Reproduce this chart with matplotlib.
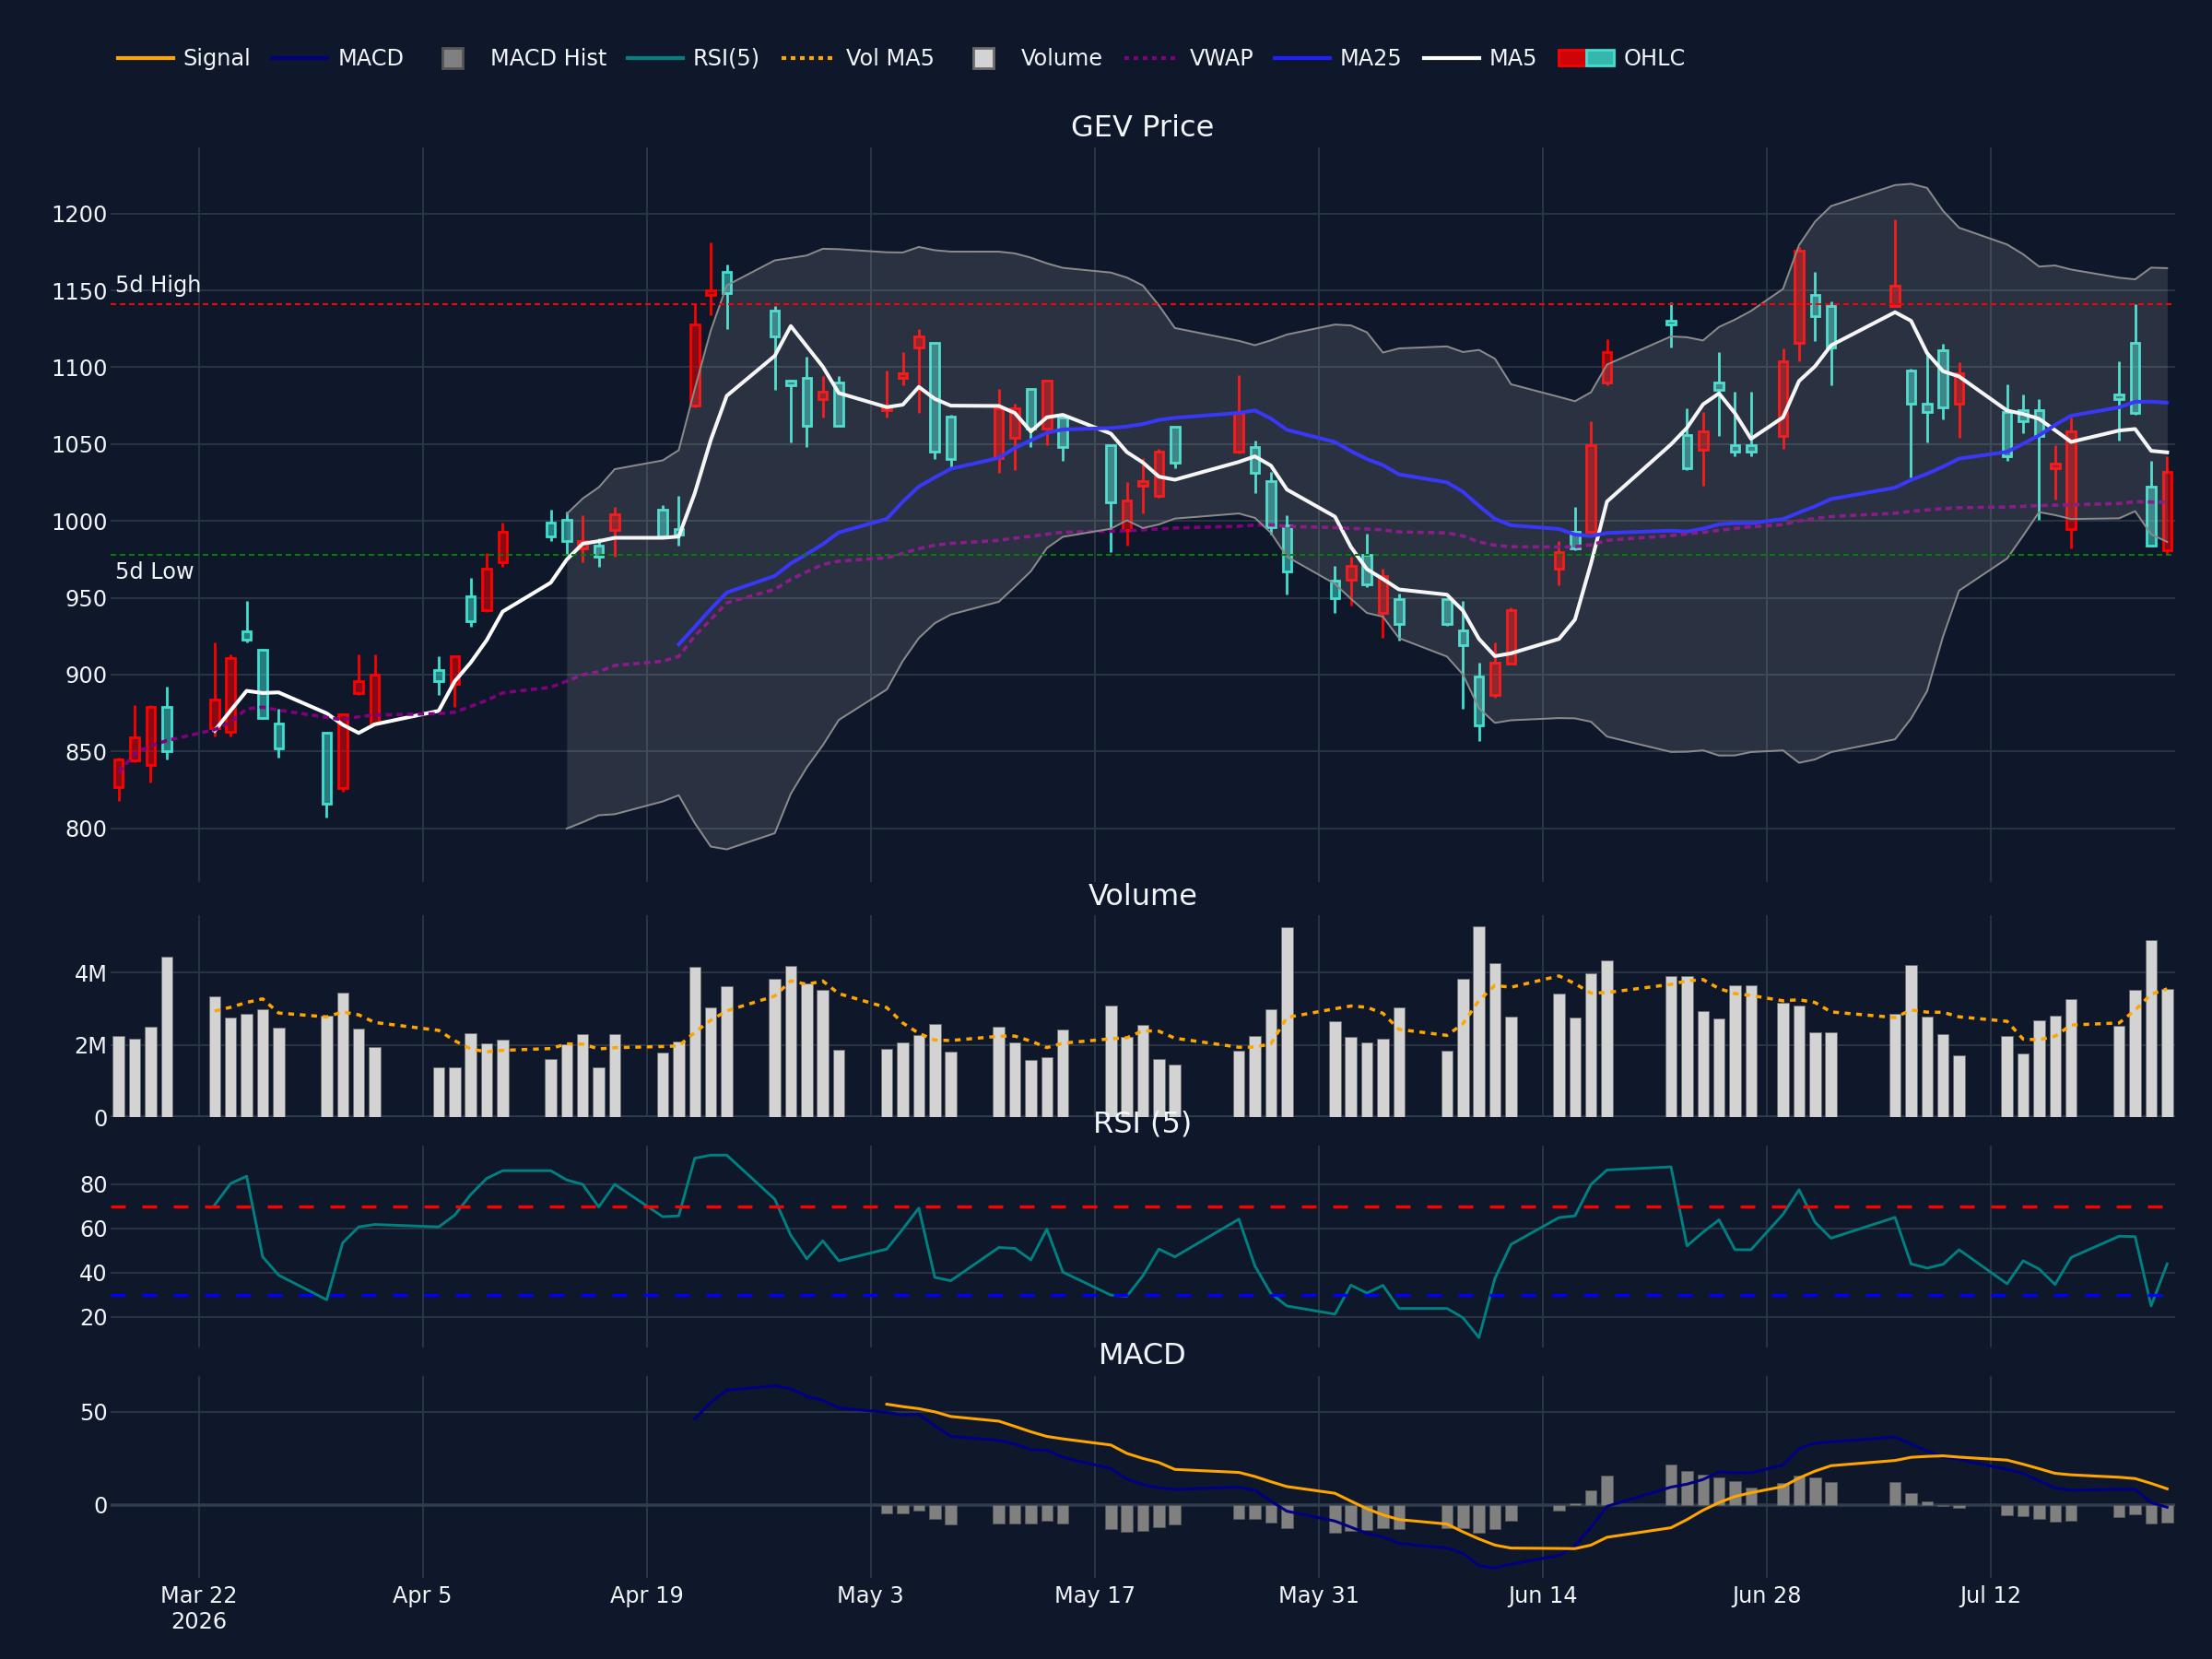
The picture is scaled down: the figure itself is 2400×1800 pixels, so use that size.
import matplotlib
matplotlib.use("Agg")
import matplotlib.pyplot as plt
import matplotlib.dates as mdates
from matplotlib.patches import Rectangle, Patch
from matplotlib.lines import Line2D
from matplotlib.legend_handler import HandlerTuple
from matplotlib.colors import to_rgba
import pandas as pd

# trading days (2026)
days = ["03-17", "03-18", "03-19", "03-20",
        "03-23", "03-24", "03-25", "03-26", "03-27",
        "03-30", "03-31", "04-01", "04-02",
        "04-06", "04-07", "04-08", "04-09", "04-10",
        "04-13", "04-14", "04-15", "04-16", "04-17",
        "04-20", "04-21", "04-22", "04-23", "04-24",
        "04-27", "04-28", "04-29", "04-30", "05-01",
        "05-04", "05-05", "05-06", "05-07", "05-08",
        "05-11", "05-12", "05-13", "05-14", "05-15",
        "05-18", "05-19", "05-20", "05-21", "05-22",
        "05-26", "05-27", "05-28", "05-29",
        "06-01", "06-02", "06-03", "06-04", "06-05",
        "06-08", "06-09", "06-10", "06-11", "06-12",
        "06-15", "06-16", "06-17", "06-18",
        "06-22", "06-23", "06-24", "06-25", "06-26", "06-27",
        "06-29", "06-30", "07-01", "07-02",
        "07-06", "07-07", "07-08", "07-09", "07-10",
        "07-13", "07-14", "07-15", "07-16", "07-17",
        "07-20", "07-21", "07-22", "07-23"]

opens = [827, 844, 841, 879,
         865, 863, 928, 916, 868,
         862, 826, 888, 868,
         903, 894, 951, 942, 973,
         999, 1001, 982, 984, 994,
         1007, 995, 1075, 1147, 1162,
         1137, 1091, 1093, 1079, 1090,
         1072, 1093, 1113, 1116, 1068,
         1041, 1054, 1086, 1060, 1067,
         1049, 994, 1023, 1016, 1061,
         1045, 1048, 1026, 997,
         961, 962, 978, 940, 949,
         949, 929, 899, 887, 907,
         969, 993, 993, 1090,
         1130, 1056, 1046, 1090, 1049, 1049,
         1055, 1116, 1147, 1140,
         1140, 1098, 1076, 1111, 1076,
         1071, 1072, 1072, 1034, 995,
         1082, 1116, 1022, 981]

highs = [846, 880, 880, 892,
         921, 913, 948, 917, 878,
         863, 875, 913, 913,
         912, 912, 963, 979, 999,
         1007, 1006, 1004, 989, 1009,
         1010, 1016, 1141, 1181, 1167,
         1140, 1092, 1107, 1094, 1094,
         1098, 1110, 1125, 1116, 1069,
         1086, 1076, 1086, 1091, 1067,
         1049, 1025, 1041, 1047, 1061,
         1095, 1052, 1032, 1004,
         971, 977, 992, 969, 953,
         950, 948, 908, 921, 944,
         987, 1009, 1065, 1118,
         1142, 1073, 1071, 1110, 1084, 1084,
         1112, 1178, 1162, 1143,
         1196, 1099, 1110, 1115, 1103,
         1089, 1082, 1079, 1049, 1067,
         1104, 1141, 1039, 1042]

lows = [818, 843, 830, 845,
        860, 860, 921, 871, 846,
        807, 824, 887, 867,
        887, 879, 931, 941, 970,
        987, 978, 973, 970, 977,
        989, 984, 1074, 1134, 1125,
        1085, 1051, 1048, 1067, 1062,
        1067, 1088, 1070, 1040, 1035,
        1031, 1033, 1048, 1049, 1039,
        980, 984, 1005, 1015, 1034,
        1044, 1018, 991, 952,
        940, 945, 957, 924, 922,
        932, 878, 857, 885, 907,
        958, 981, 992, 1088,
        1113, 1033, 1023, 1055, 1042, 1042,
        1047, 1104, 1117, 1088,
        1139, 1028, 1051, 1066, 1054,
        1039, 1057, 1001, 1014, 982,
        1052, 1069, 984, 978]

closes = [845, 859, 879, 850,
          884, 911, 923, 872, 852,
          816, 874, 896, 900,
          896, 912, 935, 969, 993,
          990, 987, 987, 977, 1004,
          990, 991, 1128, 1150, 1148,
          1120, 1088, 1062, 1084, 1062,
          1074, 1096, 1120, 1045, 1040,
          1073, 1073, 1060, 1091, 1048,
          1012, 1013, 1026, 1045, 1038,
          1070, 1031, 996, 967,
          950, 971, 959, 964, 933,
          933, 919, 867, 908, 942,
          980, 982, 1049, 1110,
          1128, 1034, 1058, 1085, 1045, 1045,
          1104, 1176, 1133, 1113,
          1153, 1076, 1071, 1074, 1096,
          1042, 1065, 1055, 1037, 1058,
          1079, 1070, 984, 1032]

# volume in millions
volumes = [2.24, 2.18, 2.49, 4.43,
           3.34, 2.76, 2.85, 2.99, 2.47,
           2.80, 3.45, 2.45, 1.93,
           1.37, 1.37, 2.32, 2.04, 2.14,
           1.62, 2.01, 2.29, 1.38, 2.31,
           1.78, 2.09, 4.17, 3.05, 3.62,
           3.83, 4.19, 3.69, 3.51, 1.87,
           1.90, 2.06, 2.26, 2.57, 1.81,
           2.49, 2.08, 1.57, 1.67, 2.42,
           3.10, 2.22, 2.54, 1.61, 1.45,
           1.85, 2.24, 2.99, 5.26,
           2.66, 2.23, 2.06, 2.16, 3.03,
           1.83, 3.83, 5.29, 4.25, 2.77,
           3.41, 2.75, 3.98, 4.33,
           3.90, 3.90, 2.93, 2.73, 3.64, 3.64,
           3.16, 3.08, 2.34, 2.34,
           2.86, 4.21, 2.78, 2.31, 1.72,
           2.24, 1.75, 2.68, 2.81, 3.27,
           2.52, 3.52, 4.90, 3.54]

# RSI(5), starts on the 5th day
rsi_vals = [None] * 4 + [
    70.6, 80.3, 83.6, 47.2, 38.9,
    27.8, 53.5, 60.7, 61.8,
    60.7, 66.0, 75.3, 82.6, 86.1,
    86.1, 81.9, 79.9, 69.7, 79.9,
    65.3, 65.7, 91.7, 93.1, 93.1,
    73.2, 56.9, 46.3, 54.4, 45.4,
    50.7, 59.7, 69.2, 37.9, 36.4,
    51.4, 51.0, 45.8, 59.7, 40.3,
    29.9, 29.4, 38.6, 50.7, 47.2,
    64.2, 43.1, 30.6, 25.0,
    21.3, 34.4, 30.8, 34.3, 23.9,
    23.9, 19.7, 10.7, 37.5, 52.8,
    64.9, 65.7, 79.9, 86.4,
    87.8, 52.1, 58.3, 63.9, 50.4, 50.4,
    66.4, 77.5, 62.8, 55.6,
    65.0, 44.0, 42.1, 43.8, 50.4,
    35.0, 45.4, 41.7, 34.7, 46.9,
    56.5, 56.3, 25.0, 44.0]

macd_vals = [None] * 25 + [
    46.2, 55.0, 61.6,
    64.0, 62.4, 58.3, 56.1, 52.1,
    49.7, 48.3, 48.7, 42.6, 36.8,
    34.7, 32.7, 29.7, 29.4, 25.6,
    19.5, 14.0, 11.0, 9.2, 8.4,
    9.6, 7.9, 2.1, -3.3,
    -8.6, -11.9, -15.2, -17.2, -20.6,
    -23.1, -25.9, -32.5, -33.7, -31.7,
    -27.1, -21.8, -11.9, -0.7,
    9.6, 11.2, 13.7, 17.8, 17.3, 17.3,
    21.5, 30.2, 33.2, 33.8,
    36.5, 32.7, 28.9, 25.7, 24.4,
    19.1, 17.0, 12.9, 9.1, 7.9,
    8.4, 8.4, 1.3, -1.2]

signal_vals = [None] * 33 + [
    54.1, 52.8, 51.7, 50.0, 47.5,
    45.0, 42.2, 39.3, 36.8, 35.5,
    32.2, 27.7, 25.0, 22.8, 19.1,
    17.5, 15.3, 12.5, 9.9,
    6.3, 2.1, -2.0, -5.3, -7.8,
    -10.2, -14.4, -18.2, -21.5, -23.1,
    -23.3, -23.4, -21.5, -17.3,
    -12.2, -7.8, -2.8, 1.3, 4.6, 6.6,
    9.9, 14.5, 18.2, 21.1,
    23.9, 25.6, 26.1, 26.4, 25.7,
    24.1, 21.9, 19.5, 17.0, 16.2,
    14.9, 14.2, 11.6, 8.7]

hist_vals = [None] * 33 + [
    -4.5, -4.5, -2.8, -7.3, -10.2,
    -9.9, -9.9, -9.9, -8.3, -9.7,
    -12.7, -14.4, -13.9, -11.9, -10.6,
    -7.4, -7.4, -9.6, -12.4,
    -14.7, -14.0, -13.5, -12.4, -12.9,
    -12.4, -12.4, -14.7, -12.9, -8.6,
    -3.0, 1.0, 7.9, 15.8,
    21.5, 18.2, 16.2, 15.0, 12.9, 9.6,
    11.6, 15.7, 15.0, 12.5,
    12.4, 6.6, 2.0, -0.3, -1.5,
    -5.3, -6.1, -7.4, -8.9, -8.6,
    -6.4, -5.0, -9.7, -9.4]

BG = "#0f172a"
GRID = "#283442"
ZERO = "#2f3d4d"
TXT = "#f2f5fa"
UP = "#ff0000"
DOWN = "#40e0d0"
TICK_FS = 8.64
TITLE_FS = 11.52

df = pd.DataFrame({"open": opens, "high": highs, "low": lows, "close": closes,
                   "volume": [v * 1e6 for v in volumes]},
                  index=pd.to_datetime(["2026-" + d for d in days]))
df["ma5"] = df["close"].rolling(5).mean()
df["ma25"] = df["close"].rolling(25).mean()
mid = df["close"].rolling(20).mean()
std = df["close"].rolling(20).std()
df["bb_up"] = mid + 2 * std
df["bb_lo"] = mid - 2 * std
typical = (df["high"] + df["low"] + df["close"]) / 3
df["vwap"] = (typical * df["volume"]).cumsum() / df["volume"].cumsum()
df["vol_ma5"] = df["volume"].rolling(5).mean()
df["rsi"] = pd.to_numeric(pd.Series(rsi_vals, index=df.index), errors="coerce")
df["macd"] = pd.to_numeric(pd.Series(macd_vals, index=df.index), errors="coerce")
df["signal"] = pd.to_numeric(pd.Series(signal_vals, index=df.index), errors="coerce")
df["hist"] = pd.to_numeric(pd.Series(hist_vals, index=df.index), errors="coerce")
high5 = df["high"].iloc[-5:].max()
low5 = df["low"].iloc[-5:].min()

x = mdates.date2num(df.index.to_pydatetime())

fig = plt.figure(figsize=(12, 9), dpi=200, facecolor=BG)
W, H = 2400.0, 1800.0
panels = [(160, 957), (993, 1212), (1243, 1462), (1493, 1712)]
axes = []
for top, bot in panels:
    ax = fig.add_axes([120 / W, 1 - bot / H, 2240 / W, (bot - top) / H],
                      sharex=axes[0] if axes else None)
    ax.set_facecolor(BG)
    for s in ax.spines.values():
        s.set_visible(False)
    ax.grid(True, color=GRID, lw=0.72, zorder=0)
    ax.set_axisbelow(True)
    ax.tick_params(length=0, labelcolor=TXT, labelsize=TICK_FS, pad=1.2)
    axes.append(ax)
ax_p, ax_v, ax_r, ax_m = axes

# price panel
bw = 0.55
for xi, o, h, l, c in zip(x, opens, highs, lows, closes):
    col = UP if c > o else DOWN
    b0, b1 = min(o, c), max(o, c)
    ax_p.plot([xi, xi], [l, b0], color=col, lw=1.0, solid_capstyle="butt", zorder=2)
    ax_p.plot([xi, xi], [b1, h], color=col, lw=1.0, solid_capstyle="butt", zorder=2)
    ax_p.add_patch(Rectangle((xi - bw / 2, b0), bw, max(b1 - b0, 0.3),
                             facecolor=to_rgba(col, 0.5), edgecolor=col, lw=1.0, zorder=2))
ax_p.plot(x, df["ma5"], color="white", lw=1.45, zorder=3)
ax_p.plot(x, df["ma25"], color="#1f1fff", lw=1.45, zorder=3)
ax_p.plot(x, df["vwap"], color="#800080", lw=1.3, ls=(0, (1.9, 1.3)), zorder=3)
bb = df["bb_up"].notna().values
ax_p.fill_between(x[bb], df["bb_lo"][bb], df["bb_up"][bb], color="#c8c8c8", alpha=0.15,
                  lw=0, zorder=4)
ax_p.plot(x[bb], df["bb_up"][bb], color="#8a8a8a", lw=0.72, zorder=4)
ax_p.plot(x[bb], df["bb_lo"][bb], color="#8a8a8a", lw=0.72, zorder=4)
ax_p.axhline(high5, color="red", lw=0.72, ls=(0, (3, 2)), zorder=5)
ax_p.axhline(low5, color="green", lw=0.72, ls=(0, (3, 2)), zorder=5)
ax_p.annotate("5d High", xy=(0, high5), xycoords=("axes fraction", "data"),
              xytext=(1.8, 2.8), textcoords="offset points", ha="left", va="bottom",
              color=TXT, fontsize=TICK_FS)
ax_p.annotate("5d Low", xy=(0, low5), xycoords=("axes fraction", "data"),
              xytext=(1.8, -2.6), textcoords="offset points", ha="left", va="top",
              color=TXT, fontsize=TICK_FS)
ax_p.set_ylim(765, 1243)
ax_p.set_yticks(range(800, 1201, 50))

# volume panel
ax_v.bar(x, df["volume"], width=0.72, color="#d3d3d3", edgecolor="#6b6b6b", lw=0.3, zorder=2)
ax_v.plot(x, df["vol_ma5"], color="orange", lw=1.25, ls=(0, (1.8, 1.8)), zorder=3)
ax_v.axhline(0, color=ZERO, lw=1.3, zorder=1)
ax_v.set_ylim(0, 5.59e6)
ax_v.set_yticks([0, 2e6, 4e6])
ax_v.set_yticklabels(["0", "2M", "4M"])

# RSI panel
ax_r.plot(x, df["rsi"], color="#008080", lw=1.05, zorder=3)
ax_r.axhline(70, color="red", lw=1.2, ls=(0, (4.8, 5.4)), zorder=4)
ax_r.axhline(30, color="blue", lw=1.2, ls=(0, (4.8, 5.4)), zorder=4)
ax_r.set_ylim(6.25, 97.4)
ax_r.set_yticks([20, 40, 60, 80])

# MACD panel
ax_m.axhline(0, color=ZERO, lw=1.3, zorder=1)
ax_m.bar(x, df["hist"], width=0.72, color="#808080", edgecolor="#555555", lw=0.3, zorder=2)
ax_m.plot(x, df["macd"], color="#000080", lw=1.1, zorder=3)
ax_m.plot(x, df["signal"], color="orange", lw=1.1, zorder=3)
ax_m.set_ylim(-39.1, 69.2)
ax_m.set_yticks([0, 50])

# shared date axis
ticks = pd.date_range("2026-03-22", periods=9, freq="14D")
labels = [t.strftime("%b ") + str(t.day) for t in ticks]
labels[0] += "\n2026"
ax_m.set_xticks(mdates.date2num(ticks.to_pydatetime()))
ax_m.set_xlim(x[0] - 0.5, x[-1] + 0.5)
for ax in axes[:-1]:
    ax.tick_params(labelbottom=False)
ax_m.set_xticklabels(labels)
ax_m.tick_params(axis="x", pad=3)

# subplot titles
cx = (120 + 2360) / 2 / W
for name, yc in [("GEV Price", 139), ("Volume", 973), ("RSI (5)", 1220), ("MACD", 1472)]:
    fig.text(cx, 1 - yc / H, name, ha="center", va="center", color=TXT, fontsize=TITLE_FS)

# legend
handles = [
    Line2D([], [], color="orange", lw=1.5),
    Line2D([], [], color="#000080", lw=1.5),
    Line2D([], [], marker="s", ls="None", markersize=8, markerfacecolor="#808080",
           markeredgecolor="#555555"),
    Line2D([], [], color="#008080", lw=1.5),
    Line2D([], [], color="orange", lw=1.5, ls=(0, (1.2, 1.2))),
    Line2D([], [], marker="s", ls="None", markersize=8, markerfacecolor="#d3d3d3",
           markeredgecolor="#6b6b6b"),
    Line2D([], [], color="#800080", lw=1.5, ls=(0, (1.2, 1.2))),
    Line2D([], [], color="#1f1fff", lw=1.5),
    Line2D([], [], color="white", lw=1.5),
    (Patch(facecolor=to_rgba(UP, 0.8), edgecolor=UP), Patch(facecolor=to_rgba(DOWN, 0.8), edgecolor=DOWN)),
]
names = ["Signal", "MACD", "MACD Hist", "RSI(5)", "Vol MA5", "Volume", "VWAP", "MA25", "MA5", "OHLC"]
leg = fig.legend(handles, names, loc="center left", bbox_to_anchor=(128 / W, 1 - 64 / H),
                 ncol=10, frameon=False, fontsize=TICK_FS, handlelength=2.5,
                 handletextpad=0.45, columnspacing=0.95, borderaxespad=0, borderpad=0,
                 handler_map={tuple: HandlerTuple(ndivide=None, pad=0)})
for t in leg.get_texts():
    t.set_color(TXT)

fig.savefig("out.png", dpi=200, facecolor=BG)
